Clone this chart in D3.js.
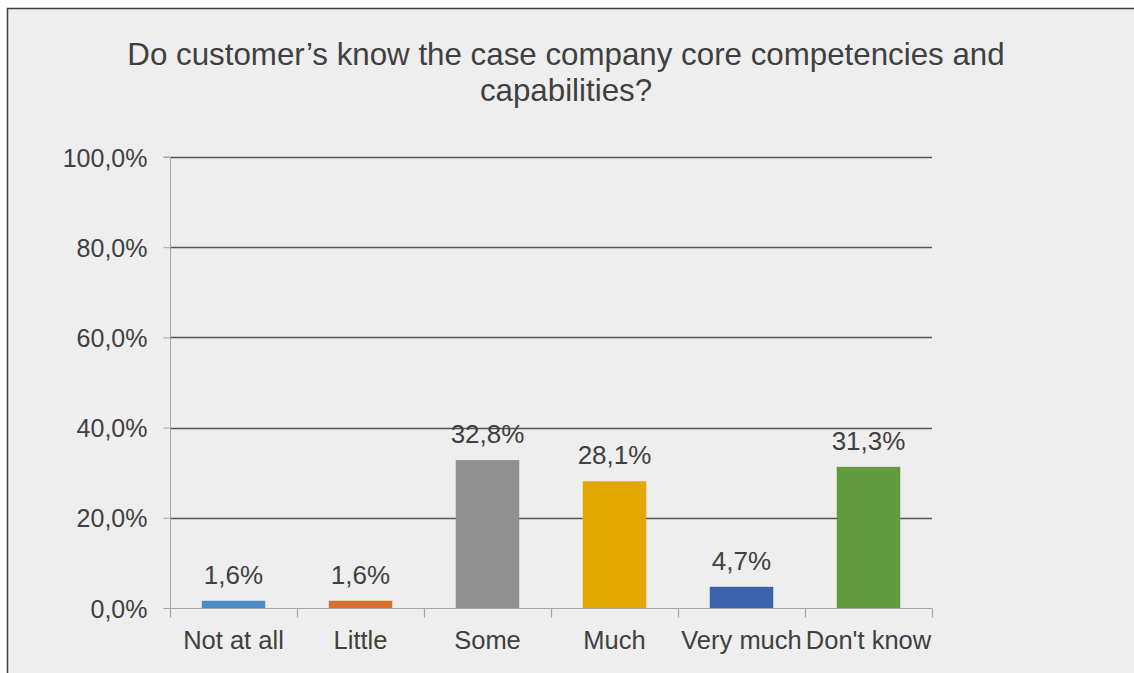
<!DOCTYPE html>
<html>
<head>
<meta charset="utf-8">
<script src="https://cdn.jsdelivr.net/npm/d3@7"></script>
<style>
  html, body { margin: 0; padding: 0; background: #ffffff; }
  svg { display: block; }
  text { font-family: "Liberation Sans", Arial, sans-serif; fill: #404040; }
</style>
</head>
<body>
<svg id="chart" width="1134" height="673"></svg>
<script>
// Survey answers and their shares (%)
const categories = ["Not at all", "Little", "Some", "Much", "Very much", "Don't know"];
const shares = [1.6, 1.6, 32.8, 28.1, 4.7, 31.3];
const barColors = ["#4a8ac6", "#d8702e", "#909090", "#e2a800", "#3b64ad", "#629a3f"];
const yTicks = [0, 20, 40, 60, 80, 100];
const titleLines = ["Do customer\u2019s know the case company core competencies and", "capabilities?"];

const svg = d3.select("#chart");

// Chart frame
svg.append("rect")
  .attr("x", 7.5).attr("y", 8.5)
  .attr("width", 1140).attr("height", 680)
  .attr("fill", "#eeeeee")
  .attr("stroke", "#3f3f3f").attr("stroke-width", 1.5);

// Title
svg.append("text")
  .attr("text-anchor", "middle")
  .style("font-size", "31.3px")
  .selectAll("tspan").data(titleLines).join("tspan")
  .attr("x", 566)
  .attr("y", (d, i) => 65 + i * 36)
  .text(d => d);

const plot = { left: 170, right: 932, top: 157, bottom: 608 };

const x = d3.scaleBand()
  .domain(categories)
  .range([plot.left, plot.right])
  .paddingInner(0.5)
  .paddingOuter(0.25);

const y = d3.scaleLinear()
  .domain([0, 100])
  .range([plot.bottom, plot.top]);

const fmt = v => d3.format(".1f")(v).replace(".", ",") + "%";

// Horizontal gridlines
svg.append("g")
  .selectAll("line").data(yTicks.filter(t => t > 0)).join("line")
  .attr("x1", plot.left).attr("x2", plot.right)
  .attr("y1", d => Math.round(y(d)) + 0.5).attr("y2", d => Math.round(y(d)) + 0.5)
  .attr("stroke", "#555555").attr("stroke-width", 1.3);

// Y axis
const yAxis = svg.append("g")
  .attr("transform", `translate(${plot.left + 0.5},0)`)
  .call(d3.axisLeft(y).tickValues(yTicks).tickSize(7).tickPadding(16).tickFormat(fmt));
yAxis.select(".domain").attr("stroke", "#a6a6a6").attr("d", `M-7,${plot.top}H0V${plot.bottom + 9}`);
yAxis.selectAll(".tick line").attr("stroke", "#a6a6a6");
yAxis.selectAll(".tick text")
  .attr("fill", "#404040")
  .attr("dy", "0.36em")
  .style("font-size", "25px")
  .style("font-family", "\"Liberation Sans\", Arial, sans-serif");

// Bars
svg.append("g")
  .selectAll("rect").data(categories).join("rect")
  .attr("x", d => x(d))
  .attr("width", x.bandwidth())
  .attr("y", (d, i) => y(shares[i]))
  .attr("height", (d, i) => y(0) - y(shares[i]))
  .attr("fill", (d, i) => barColors[i]);

// X axis with category boundaries as ticks
const xAxis = svg.append("g").attr("transform", `translate(0,${plot.bottom + 0.5})`);
xAxis.append("line")
  .attr("x1", plot.left).attr("x2", plot.right)
  .attr("stroke", "#a6a6a6").attr("stroke-width", 1.2);
const bounds = categories.map(c => x(c) - x.step() * x.paddingInner() / 2)
  .concat([plot.right]);
xAxis.selectAll("line.sep").data(bounds).join("line")
  .attr("class", "sep")
  .attr("x1", d => Math.round(d) + 0.5).attr("x2", d => Math.round(d) + 0.5)
  .attr("y1", 0).attr("y2", 9)
  .attr("stroke", "#a6a6a6").attr("stroke-width", 1.2);
xAxis.selectAll("text").data(categories).join("text")
  .attr("x", d => x(d) + x.bandwidth() / 2)
  .attr("y", 40)
  .attr("text-anchor", "middle")
  .style("font-size", "25.5px")
  .text(d => d);

// Value labels
svg.append("g")
  .selectAll("text").data(categories).join("text")
  .attr("x", d => x(d) + x.bandwidth() / 2)
  .attr("y", (d, i) => y(shares[i]) - 17)
  .attr("text-anchor", "middle")
  .style("font-size", "26px")
  .text((d, i) => fmt(shares[i]));
</script>
</body>
</html>
